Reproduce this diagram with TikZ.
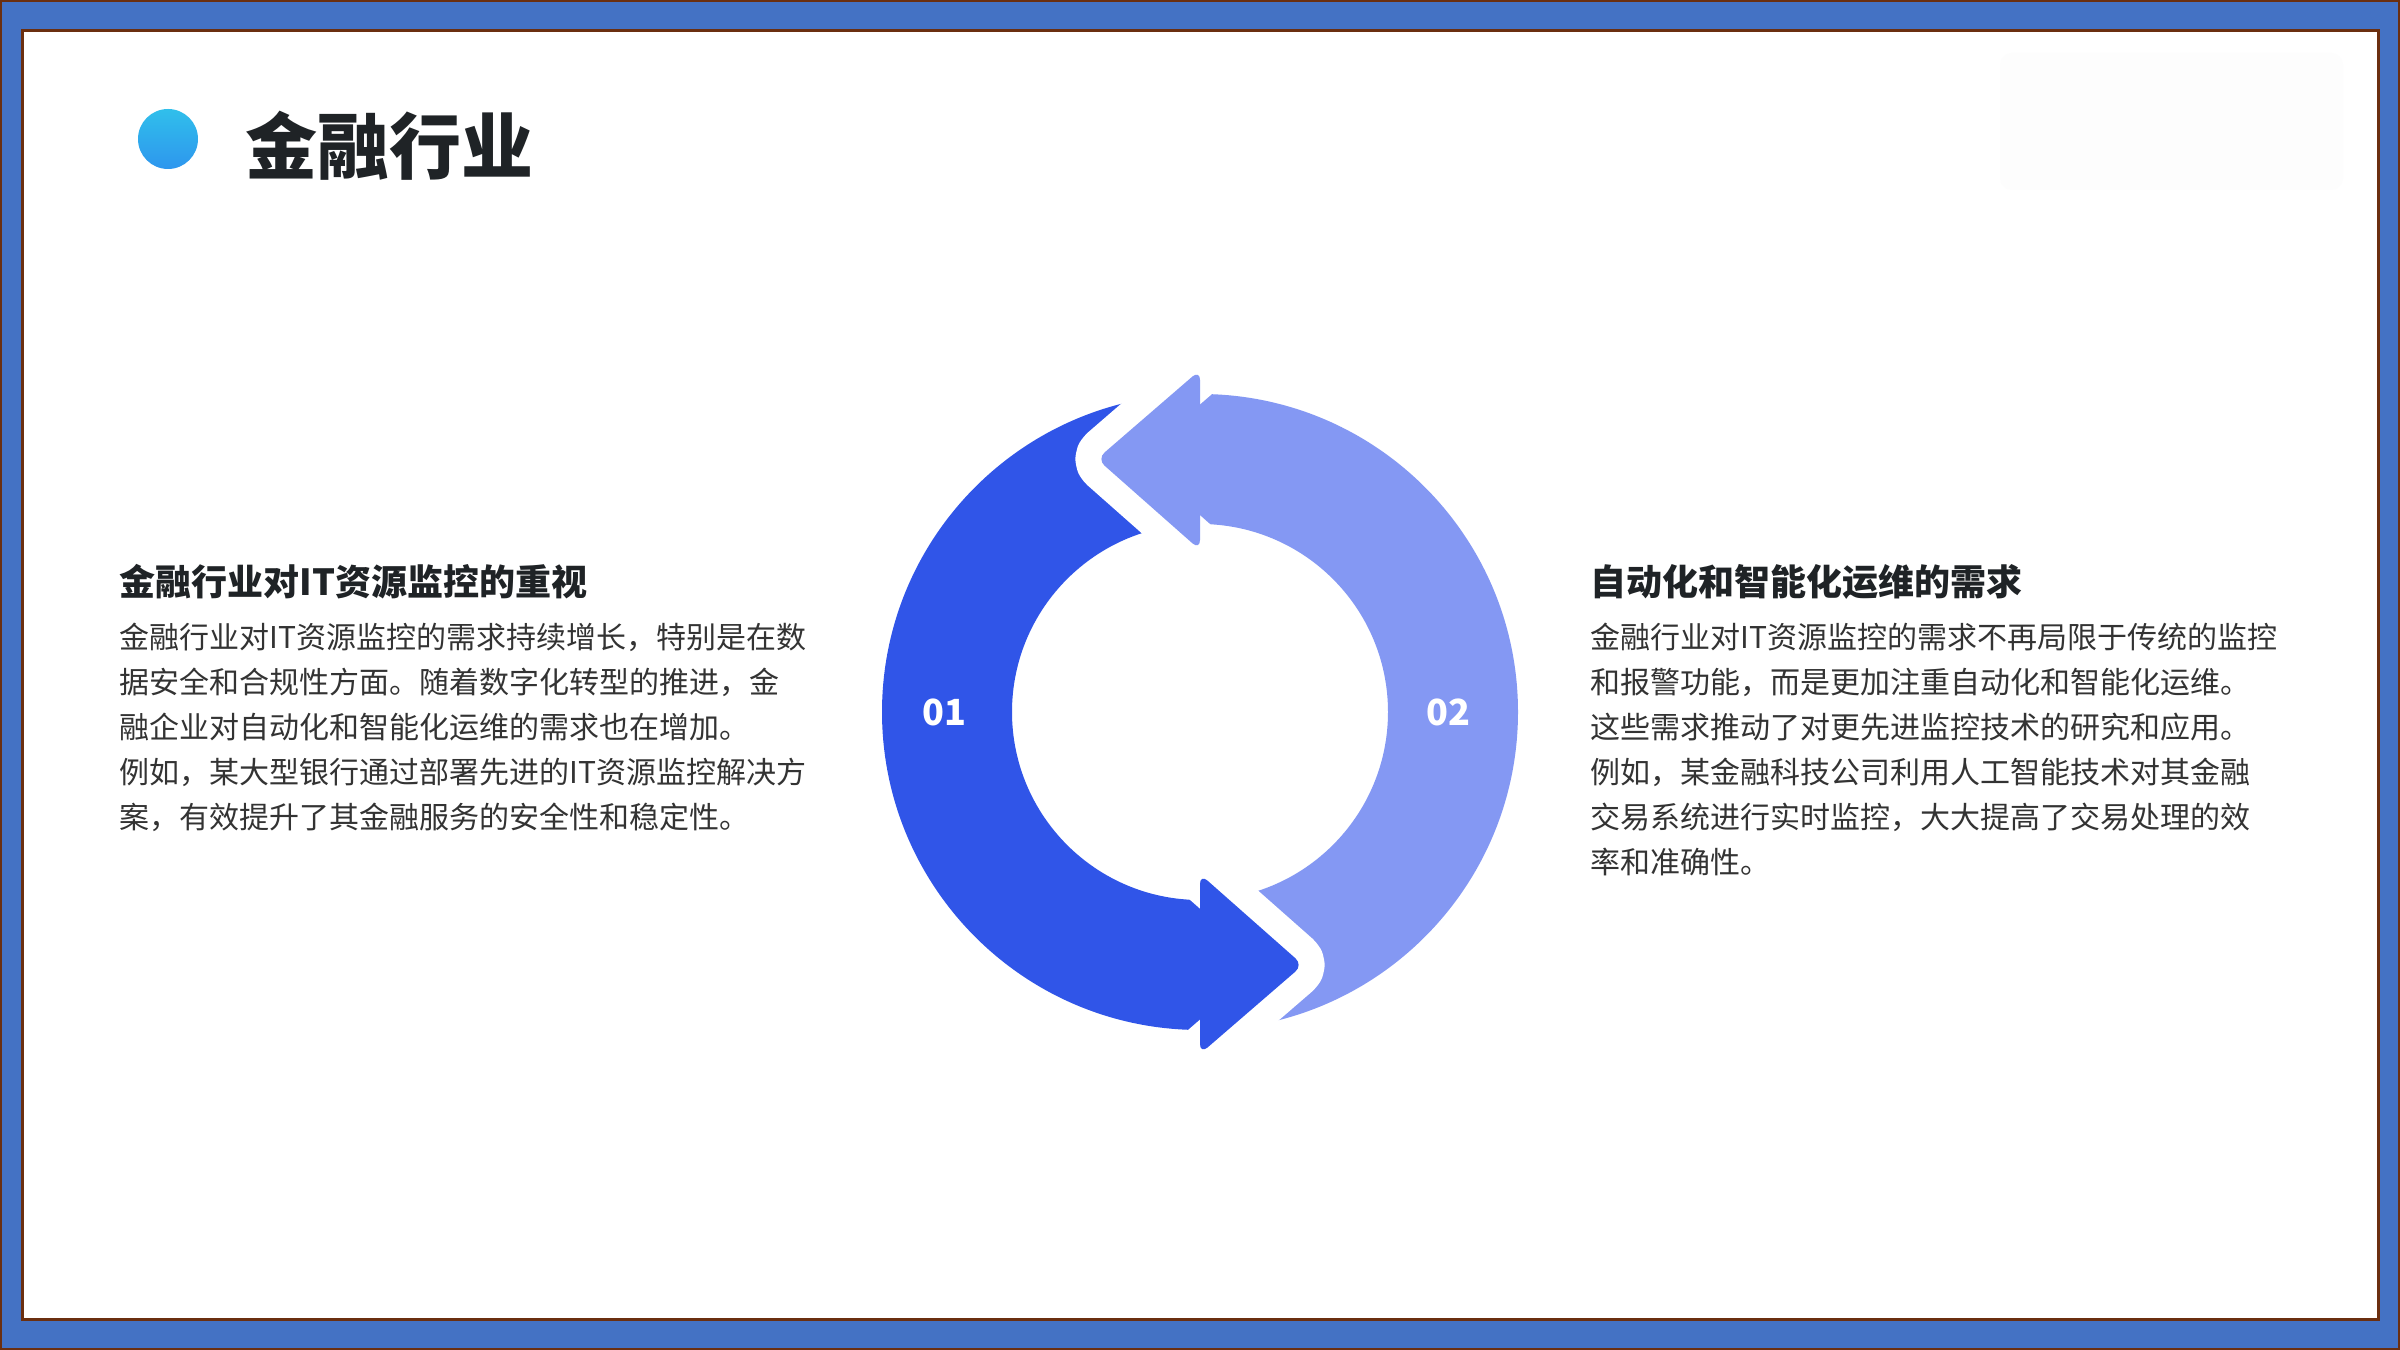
\documentclass[tikz,border=0pt]{standalone}
\usepackage{fontspec}
\setmainfont{Noto Sans CJK SC}
\usepackage{xcolor}
\usetikzlibrary{positioning, calc}
\definecolor{framebl}{HTML}{4472C4}
\definecolor{framebr}{HTML}{6B2F10}
\definecolor{darkarc}{HTML}{3055E8}
\definecolor{lightarc}{HTML}{8498F3}
\definecolor{titletxt}{HTML}{1F2326}
\definecolor{bodytxt}{HTML}{333333}
\definecolor{dottop}{HTML}{30BFEB}
\definecolor{dotbot}{HTML}{2E96EE}
\definecolor{faintbox}{HTML}{FDFDFD}
\tikzset{
  pagetitle/.style={anchor=base west,inner sep=0pt,text=titletxt,
    font=\fontsize{36pt}{40pt}\selectfont\bfseries},
  titledot/.style={circle,minimum size=30pt,inner sep=0pt,
    top color=dottop,bottom color=dotbot,draw=none},
  headtext/.style={anchor=base west,inner sep=0pt,text=titletxt,
    font=\fontsize{18pt}{22pt}\selectfont\bfseries},
  bodytext/.style={inner sep=0pt,align=left,text=bodytxt,
    font=\fontsize{15pt}{22.5pt}\selectfont},
  numlabel/.style={inner sep=0pt,text=white,font=\fontsize{18pt}{20pt}\selectfont\bfseries},
  ringcut/.style={draw=white,line width=26pt,line join=round,line cap=round,rounded corners=5pt},
  headfill/.style={rounded corners=5pt}
}
\begin{document}
\begin{tikzpicture}[x=0.5pt,y=0.5pt]
  \useasboundingbox (0,0) rectangle (2400,1350);
  \fill[framebl] (0,0) rectangle (2400,1350);
  \draw[framebr,line width=0.8pt] (0.8,0.8) rectangle (2399.2,1349.2);
  \draw[framebr,line width=1.5pt,fill=white] (22,30) rectangle (2378,1319);
  \fill[faintbox,rounded corners=6pt] (2000,1160) rectangle (2343,1297);

  \node[titledot] (dot) at (168,1211) {};
  \node[pagetitle] (ttl) at (245,1176) {金融行业};

  \coordinate (C) at (1200,638);
  \fill[darkarc] ($(C)+(90:318)$) arc[start angle=90,end angle=270,radius=318]
    -- ($(C)+(270:188)$) arc[start angle=270,end angle=90,radius=188] -- cycle;
  \fill[lightarc] ($(C)+(-90:318)$) arc[start angle=-90,end angle=90,radius=318]
    -- ($(C)+(90:188)$) arc[start angle=90,end angle=-90,radius=188] -- cycle;
  \coordinate (ltop) at ($(C)+(0,342)$);
  \coordinate (ltip) at ($(C)+(-103,253)$);
  \coordinate (lbot) at ($(C)+(0,162)$);
  \coordinate (dtop) at ($(C)+(0,-162)$);
  \coordinate (dtip) at ($(C)+(103,-253)$);
  \coordinate (dbot) at ($(C)+(0,-342)$);
  \draw[ringcut] (ltop) -- (ltip) -- (lbot);
  \draw[ringcut] (dtop) -- (dtip) -- (dbot);
  \fill[lightarc,headfill] (ltop) -- (ltip) -- (lbot) -- cycle;
  \fill[darkarc,headfill] (dtop) -- (dtip) -- (dbot) -- cycle;
  \node[numlabel] (n01) at (944,638) {01};
  \node[numlabel] (n02) at (1448,638) {02};

  \node[headtext] (lhead) at (119,754) {金融行业对IT资源监控的重视};
  \node[bodytext, below=13.2pt of lhead.base west, anchor=north west] (lbody)
    {金融行业对IT资源监控的需求持续增长，特别是在数\\
     据安全和合规性方面。随着数字化转型的推进，金\\
     融企业对自动化和智能化运维的需求也在增加。\\
     例如，某大型银行通过部署先进的IT资源监控解决方\\
     案，有效提升了其金融服务的安全性和稳定性。};
  \node[headtext] (rhead) at (1590,754) {自动化和智能化运维的需求};
  \node[bodytext, below=13.2pt of rhead.base west, anchor=north west] (rbody)
    {金融行业对IT资源监控的需求不再局限于传统的监控\\
     和报警功能，而是更加注重自动化和智能化运维。\\
     这些需求推动了对更先进监控技术的研究和应用。\\
     例如，某金融科技公司利用人工智能技术对其金融\\
     交易系统进行实时监控，大大提高了交易处理的效\\
     率和准确性。};
\end{tikzpicture}
\end{document}
